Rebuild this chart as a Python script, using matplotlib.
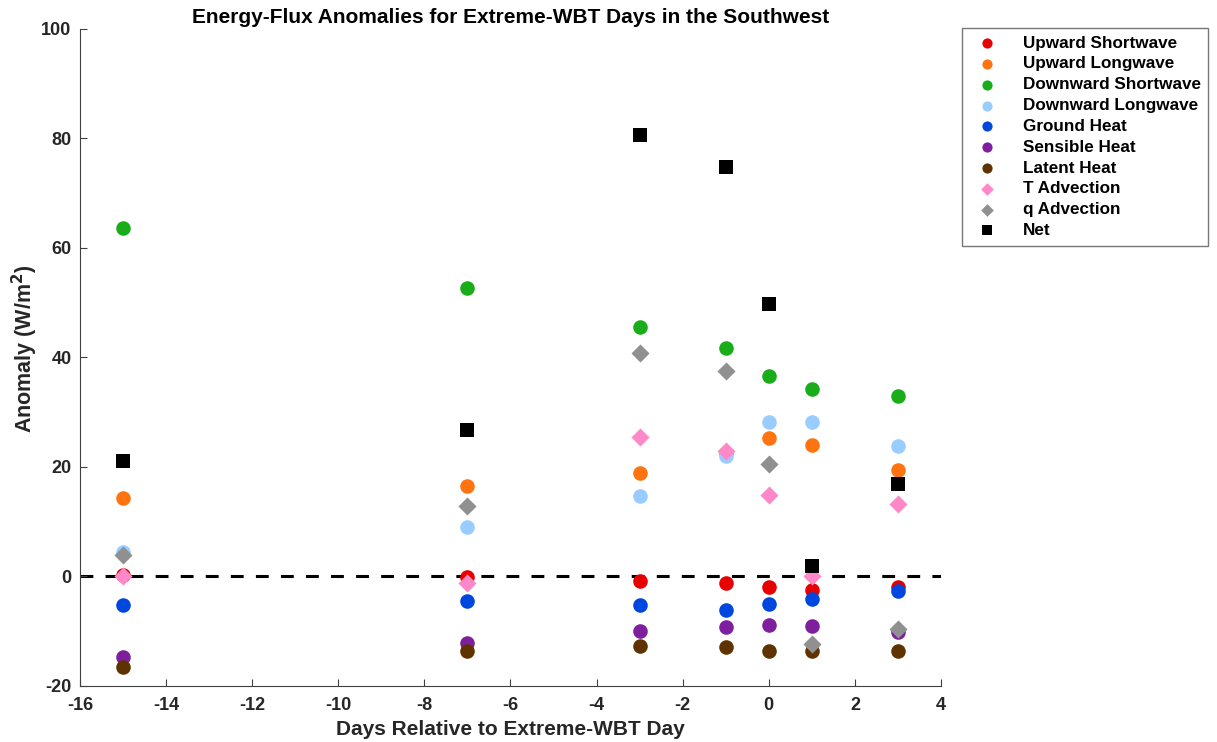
import matplotlib.pyplot as plt

plt.rcParams['font.family'] = ['Liberation Sans', 'DejaVu Sans']
plt.rcParams['font.weight'] = 'bold'
plt.rcParams['axes.unicode_minus'] = False

days = [-15, -7, -3, -1, 0, 1, 3]

up_sw   = [0.3, -0.1, -0.8, -1.2, -2.0, -2.4, -2.0]
up_lw   = [14.3, 16.5, 18.9, 22.6, 25.2, 24.0, 19.5]
down_sw = [63.6, 52.7, 45.6, 41.8, 36.6, 34.2, 33.0]
down_lw = [4.5, 9.0, 14.7, 22.0, 28.2, 28.2, 23.8]
ground  = [-5.2, -4.5, -5.2, -6.1, -5.0, -4.2, -2.6]
sens    = [-14.7, -12.1, -10.0, -9.2, -8.9, -9.0, -10.1]
latent  = [-16.5, -13.6, -12.7, -12.9, -13.6, -13.7, -13.6]
t_adv   = [0.0, -1.2, 25.5, 23.0, 14.9, 0.1, 13.3]
q_adv   = [3.9, 12.9, 40.8, 37.6, 20.5, -12.4, -9.6]
net     = [21.1, 26.8, 80.6, 74.7, 49.8, 2.0, 16.8]

# label, values, colour, marker, size
series = [
    ("Upward Shortwave",   up_sw,   "#e60000", "o", 110),
    ("Upward Longwave",    up_lw,   "#ff7410", "o", 110),
    ("Downward Shortwave", down_sw, "#1aad1a", "o", 110),
    ("Downward Longwave",  down_lw, "#99ccff", "o", 110),
    ("Ground Heat",        ground,  "#0047e0", "o", 110),
    ("Sensible Heat",      sens,    "#7e1f9e", "o", 110),
    ("Latent Heat",        latent,  "#5e3300", "o", 110),
    ("T Advection",        t_adv,   "#ff88c8", "D", 85),
    ("q Advection",        q_adv,   "#909090", "D", 85),
    ("Net",                net,     "black",   "s", 115),
]

fig = plt.figure(figsize=(12.17, 7.42), dpi=100)
ax = fig.add_axes([0.0657, 0.0755, 0.7075, 0.8855])

ax.axhline(0, color='black', linestyle=(0, (4.2, 4.0)), linewidth=2.2, zorder=1)

for label, vals, color, marker, size in series:
    ax.scatter(days, vals, s=size, c=color, marker=marker, label=label,
               linewidths=0, zorder=3)

ax.set_xlim(-16, 4)
ax.set_ylim(-20, 100)
ax.set_xticks(range(-16, 5, 2))
ax.set_yticks(range(-20, 101, 20))
ax.tick_params(direction='in', labelsize=13, width=0.8, length=5,
               color='#404040')
ax.tick_params(axis='x', pad=8)
ax.tick_params(axis='y', pad=6)
for lbl in ax.get_xticklabels() + ax.get_yticklabels():
    lbl.set_fontweight('bold')
    lbl.set_color('#262626')
ax.spines['top'].set_visible(False)
ax.spines['right'].set_visible(False)
ax.spines['left'].set_color('#404040')
ax.spines['bottom'].set_color('#404040')

ax.set_title('Energy-Flux Anomalies for Extreme-WBT Days in the Southwest',
             fontsize=15, fontweight='bold', pad=4)
ax.set_xlabel('Days Relative to Extreme-WBT Day', fontsize=15,
              fontweight='bold', color='#262626', labelpad=4)
ax.set_ylabel('Anomaly (W/m$^\\mathbf{2}$)', fontsize=15.5, fontweight='bold',
              color='#262626', labelpad=0)
ax.yaxis.set_label_coords(-0.046, 0.513)

leg = ax.legend(loc='upper left', bbox_to_anchor=(0.7905, 0.9623),
                bbox_transform=fig.transFigure, borderaxespad=0,
                fontsize=12.3, frameon=True, fancybox=False,
                edgecolor='#555555', handletextpad=1.1, labelspacing=0.34,
                borderpad=0.45, markerscale=0.7)
leg.get_frame().set_linewidth(1.0)
for t in leg.get_texts():
    t.set_fontweight('bold')

fig.savefig('out.png', dpi=100)
